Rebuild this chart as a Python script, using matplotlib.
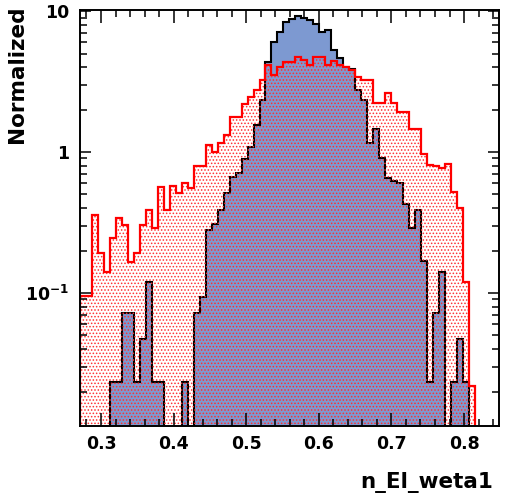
import numpy as np
import matplotlib
matplotlib.use("Agg")
import matplotlib.pyplot as plt
from matplotlib.ticker import FixedLocator, FixedFormatter, LogLocator, MultipleLocator, NullFormatter

# histogram binning (70 bins over the axis range)
x_lo, x_hi, n_bins = 0.271, 0.848, 70

# signal (blue, black outline), normalized
blue_vals = [0, 0, 0, 0, 0, 0.0235, 0.0235, 0.072, 0.072, 0.0235,
             0.047, 0.12, 0.0235, 0.0235, 0, 0, 0, 0.0235, 0, 0.072,
             0.094, 0.28, 0.31, 0.39, 0.51, 0.67, 0.71, 0.89, 1.09, 1.55,
             2.34, 4.37, 6.06, 7.13, 8.40, 8.73, 9.2, 9.0, 8.63, 8.09,
             7.13, 7.33, 5.29, 4.62, 4.03, 3.86, 2.75, 2.34, 1.16, 1.46,
             0.90, 0.65, 0.62, 0.60, 0.43, 0.29, 0.39, 0.17, 0.0235, 0.072,
             0.141, 0, 0.0235, 0.047, 0.0235, 0, 0, 0, 0, 0]

# background (red, dotted fill)
red_vals = [0.096, 0.096, 0.357, 0.191, 0.142, 0.244, 0.339, 0.303, 0.167, 0.191,
            0.303, 0.388, 0.288, 0.567, 0.388, 0.577, 0.509, 0.600, 0.558, 0.80,
            0.80, 1.12, 1.0, 1.15, 1.32, 1.78, 1.78, 2.18, 2.47, 2.75,
            3.24, 4.14, 3.52, 4.03, 4.37, 4.37, 4.70, 4.49, 4.14, 4.70,
            4.70, 4.14, 4.44, 4.14, 3.99, 3.82, 3.39, 3.24, 3.27, 2.24,
            2.24, 2.61, 2.22, 1.93, 1.93, 1.45, 1.45, 0.97, 0.81, 0.80,
            0.77, 0.82, 0.52, 0.40, 0.12, 0.022, 0, 0, 0, 0]

x_ticks = [0.3, 0.4, 0.5, 0.6, 0.7, 0.8]
y_ticks = [0.1, 1, 10]
y_labels = [r"$\mathbf{10^{-1}}$", "1", "10"]

plt.rcParams["font.family"] = "DejaVu Sans"
plt.rcParams["font.weight"] = "bold"
plt.rcParams["mathtext.fontset"] = "custom"
plt.rcParams["mathtext.bf"] = "DejaVu Sans:bold"
plt.rcParams["mathtext.rm"] = "DejaVu Sans:bold"
plt.rcParams["hatch.linewidth"] = 0.7

edges = np.linspace(x_lo, x_hi, n_bins + 1)
blue = np.array(blue_vals)
red = np.array(red_vals)

fig = plt.figure(figsize=(5.06, 4.93), dpi=100)
ax = fig.add_axes([0.158, 0.136, 0.828, 0.844])
ax.set_yscale("log")

ax.stairs(blue, edges, fill=True, facecolor="#7d99d1", edgecolor="none", baseline=1e-6)
ax.stairs(blue, edges, color="black", lw=1.5, baseline=1e-6)
ax.stairs(red, edges, fill=True, facecolor="none", edgecolor="#ff3030", hatch=".....",
          lw=0, baseline=1e-6)
ax.stairs(red, edges, color="red", lw=1.6, baseline=1e-6)

ax.set_xlim(x_lo, x_hi)
ax.set_ylim(0.0114, 10.2)

ax.xaxis.set_major_locator(FixedLocator(x_ticks))
ax.xaxis.set_minor_locator(MultipleLocator(0.02))
ax.yaxis.set_major_locator(FixedLocator(y_ticks))
ax.yaxis.set_major_formatter(FixedFormatter(y_labels))
ax.yaxis.set_minor_locator(LogLocator(base=10, subs=np.arange(2, 10)))
ax.yaxis.set_minor_formatter(NullFormatter())

ax.tick_params(which="both", direction="in", top=True, right=True, width=1.1,
               labelsize=12.5)
ax.tick_params(axis="x", which="major", length=9.5, pad=6.5)
ax.tick_params(axis="x", which="minor", length=5)
ax.tick_params(axis="y", which="major", length=8, pad=8)
ax.tick_params(axis="y", which="minor", length=5)
for s in ax.spines.values():
    s.set_linewidth(1.4)

ax.set_xlabel("n_El_weta1", fontsize=15.5, fontweight="bold", loc="right")
ax.xaxis.set_label_coords(0.985, -0.11)
ax.set_ylabel("Normalized", fontsize=15.5, fontweight="bold", loc="top")
ax.yaxis.set_label_coords(-0.127, 1.01)

fig.savefig("out.png", dpi=100)
